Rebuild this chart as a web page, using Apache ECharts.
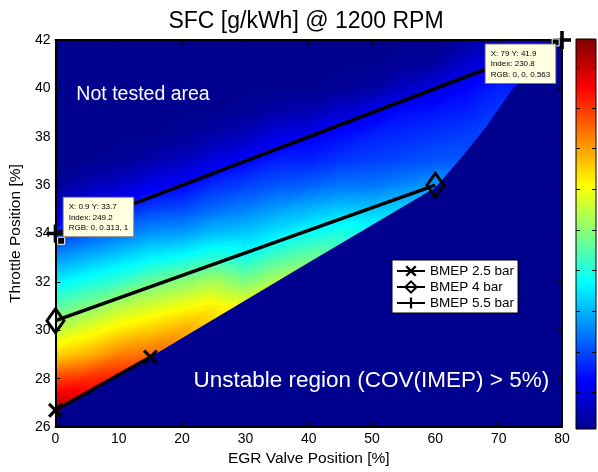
<!DOCTYPE html>
<html>
<head>
<meta charset="utf-8">
<title>SFC @ 1200 RPM</title>
<script src="https://cdn.jsdelivr.net/npm/echarts@6/dist/echarts.min.js"></script>
<style>
  html, body { margin: 0; padding: 0; background: #fff; }
  #chart { width: 598px; height: 472px; }
</style>
</head>
<body>
<div id="chart"></div>
<script>
// SFC readings [g/kWh]; one row per throttle position, one column per EGR position
const egrCols = [0, 5, 10, 15, 20, 25, 30, 35, 40, 45, 50, 55, 60, 65, 70, 75, 80]
const throttleRows = [26, 27, 28, 29, 30, 31, 32, 33, 34, 35, 36, 37, 38, 39, 40, 41, 42]
const n = null
const sfcRows = [
  [322, 320, n, n, n, n, n, n, n, n, n, n, n, n, n, n, n],
  [320, 318, 314, n, n, n, n, n, n, n, n, n, n, n, n, n, n],
  [309, 311, 313, 307, 302, n, n, n, n, n, n, n, n, n, n, n, n],
  [295, 298, 303, 305, 302, 296, n, n, n, n, n, n, n, n, n, n, n],
  [285, 289, 293, 296, 299, 296, 290, n, n, n, n, n, n, n, n, n, n],
  [275, 279, 284, 287, 290, 292, 290, 285, n, n, n, n, n, n, n, n, n],
  [266, 269, 272, 277, 280, 283, 279, 284, 279, 274, n, n, n, n, n, n, n],
  [257, 260, 263, 266, 268, 271, 269, 274, 277, 274, 268, n, n, n, n, n, n],
  [247, 251, 254, 257, 258, 261, 262, 265, 268, 270, 268, 264, n, n, n, n, n],
  [238, 242, 245, 249, 250, 253, 255, 258, 260, 262, 262, 263, 261, 254, n, n, n],
  [232, 235, 237, 241, 243, 247, 249, 251, 252, 254, 254, 256, 258, 253, n, n, n],
  [231, 231, 232, 234, 236, 240, 243, 246, 246, 248, 249, 250, 251, 251, 249, n, n],
  [231, 231, 231, 231, 232, 234, 236, 240, 242, 244, 246, 247, 248, 249, 249, n, n],
  [231, 231, 231, 231, 231, 231, 232, 234, 235, 238, 241, 244, 245, 246, 248, 246, n],
  [231, 231, 231, 231, 231, 231, 231, 231, 231, 232, 233, 237, 240, 243, 246, 245, 242],
  [231, 231, 231, 231, 231, 231, 231, 231, 231, 231, 231, 232, 233, 238, 242, 243, 240],
  [231, 231, 231, 231, 231, 231, 231, 231, 231, 231, 231, 231, 231, 233, 236, 238, 231]
]
const sfcMin = 231
const sfcMax = 327

// lower limit of the tested area (below it COV(IMEP) > 5%)
const edgeEgr = [0, 15, 40, 60, 64, 68, 72, 76, 80]
const edgeThrottle = [26.6, 28.9, 32.8, 35.9, 37.1, 38.4, 39.9, 41.1, 42]

// constant BMEP lines
const bmep25Egr = [0, 15]
const bmep25Thr = [26.7, 28.9]
const bmep4Egr = [0, 60]
const bmep4Thr = [30.4, 36]
const bmep55Egr = [0, 80]
const bmep55Thr = [34, 42]

// data tips
const tipEgr = [0.9, 79]
const tipThr = [33.7, 41.9]
const tipIndex = [249.2, 230.8]
const tipRgb = ['0, 0.313, 1', '0, 0, 0.563']

const noteEgr = [3.3, 21.8]
const noteThr = [39.75, 27.9]
const noteText = ['Not tested area', 'Unstable region (COV(IMEP) > 5%)']

const colorbarTicks = [240, 250, 260, 270, 280, 290, 300, 310, 320]

const font = "'Liberation Sans', Arial, Helvetica, sans-serif"

// jet colormap
const jetStops = [
  [0, [0, 0, 143]],
  [1 / 8, [0, 0, 255]],
  [3 / 8, [0, 255, 255]],
  [5 / 8, [255, 255, 0]],
  [7 / 8, [255, 0, 0]],
  [1, [128, 0, 0]]
]

const jet = (v) => {
  const t = Math.min(1, Math.max(0, (v - sfcMin) / (sfcMax - sfcMin)))
  for (let i = 1; i < jetStops.length; i++) {
    const [t1, c1] = jetStops[i]
    const [t0, c0] = jetStops[i - 1]
    if (t <= t1) {
      const f = (t - t0) / (t1 - t0)
      const c = c0.map((a, k) => Math.round(a + (c1[k] - a) * f))
      return `rgb(${c[0]},${c[1]},${c[2]})`
    }
  }
  return 'rgb(128,0,0)'
}

const rampStops = (lo, hi) => {
  const stops = [{ offset: 0, color: jet(lo) }]
  jetStops.forEach(([t]) => {
    const v = sfcMin + t * (sfcMax - sfcMin)
    if (v > lo && v < hi) stops.push({ offset: (v - lo) / (hi - lo), color: jet(v) })
  })
  stops.push({ offset: 1, color: jet(hi) })
  return stops
}

// gouraud-shaded triangle: values vary linearly, so one linear gradient covers it
const shadedTriangle = (pts, vals) => {
  const [p0, p1, p2] = pts
  const [v0, v1, v2] = vals
  const lo = Math.min(v0, v1, v2)
  const hi = Math.max(v0, v1, v2)
  let fill
  if (hi - lo < 0.01) {
    fill = jet(lo)
  } else {
    const d1x = p1[0] - p0[0], d1y = p1[1] - p0[1]
    const d2x = p2[0] - p0[0], d2y = p2[1] - p0[1]
    const det = d1x * d2y - d1y * d2x
    const a = ((v1 - v0) * d2y - d1y * (v2 - v0)) / det
    const b = (d1x * (v2 - v0) - (v1 - v0) * d2x) / det
    const g2 = a * a + b * b
    const s = (lo - v0) / g2
    const e = (hi - v0) / g2
    fill = new echarts.graphic.LinearGradient(
      p0[0] + a * s, p0[1] + b * s, p0[0] + a * e, p0[1] + b * e, rampStops(lo, hi), true)
  }
  return { type: 'polygon', shape: { points: pts }, style: { fill, stroke: fill, lineWidth: 1 } }
}

const renderCell = (params, api) => {
  const x0 = api.value(0), y0 = api.value(1), x1 = api.value(2), y1 = api.value(3)
  const p00 = api.coord([x0, y0])
  const p10 = api.coord([x1, y0])
  const p01 = api.coord([x0, y1])
  const p11 = api.coord([x1, y1])
  const v00 = api.value(4), v10 = api.value(5), v01 = api.value(6), v11 = api.value(7)
  return {
    type: 'group',
    children: [
      shadedTriangle([p00, p10, p11], [v00, v10, v11]),
      shadedTriangle([p00, p11, p01], [v00, v11, v01])
    ]
  }
}

const renderColorbar = (params, api) => {
  const top = api.coord([api.value(0), api.value(3)])
  const bottom = api.coord([api.value(2), api.value(1)])
  const stops = jetStops.map(([t]) => ({ offset: t, color: jet(sfcMin + t * (sfcMax - sfcMin)) }))
  return {
    type: 'rect',
    shape: { x: top[0], y: top[1], width: bottom[0] - top[0], height: bottom[1] - top[1] },
    style: {
      fill: new echarts.graphic.LinearGradient(0, bottom[1], 0, top[1], stops, true),
      stroke: '#000',
      lineWidth: 1
    }
  }
}

// cells of the grid that have all four corners measured
const cells = []
for (let j = 0; j < throttleRows.length - 1; j++) {
  for (let i = 0; i < egrCols.length - 1; i++) {
    const v00 = sfcRows[j][i], v10 = sfcRows[j][i + 1]
    const v01 = sfcRows[j + 1][i], v11 = sfcRows[j + 1][i + 1]
    if ([v00, v10, v01, v11].some(v => v === null)) continue
    cells.push([egrCols[i], throttleRows[j], egrCols[i + 1], throttleRows[j + 1], v00, v10, v01, v11])
  }
}

const pairs = (xs, ys) => xs.map((x, i) => [x, ys[i]])

const plusPath = 'path://M0,4H10V6H0Z M4,0H6V10H4Z'
const crossPath = 'path://M0,1.5L1.5,0L5,3.5L8.5,0L10,1.5L6.5,5L10,8.5L8.5,10L5,6.5L1.5,10L0,8.5L3.5,5Z'

const mainAxis = {
  gridIndex: 0,
  type: 'value',
  z: 5,
  axisLine: { show: true, onZero: false, lineStyle: { color: '#000', width: 2 } },
  axisTick: { show: true, inside: true, length: 5, lineStyle: { color: '#000', width: 1 } },
  splitLine: { show: false }
}

const cbAxis = {
  gridIndex: 1,
  type: 'value',
  min: sfcMin,
  max: sfcMax,
  z: 5,
  axisLine: { show: false, onZero: false },
  axisTick: { show: true, inside: true, length: 4, customValues: colorbarTicks, lineStyle: { color: '#000' } },
  axisLabel: { show: false },
  splitLine: { show: false }
}

const chart = echarts.init(document.getElementById('chart'))

chart.setOption({
  animation: false,
  textStyle: { fontFamily: font },
  title: {
    text: 'SFC [g/kWh] @ 1200 RPM',
    left: 301,
    textAlign: 'center',
    top: 5,
    textStyle: { fontSize: 23, fontWeight: 'normal', color: '#000', fontFamily: font }
  },
  grid: [
    { left: 51, right: 36, top: 40, bottom: 40, show: true, backgroundColor: jet(sfcMin), borderWidth: 0 },
    { left: 576, top: 39, width: 20, height: 390, show: false }
  ],
  legend: {
    data: ['BMEP 2.5 bar', 'BMEP 4 bar', 'BMEP 5.5 bar'],
    orient: 'vertical',
    left: 392,
    top: 260,
    backgroundColor: '#fff',
    borderColor: '#000',
    borderWidth: 1,
    borderRadius: 0,
    padding: [4, 4, 3, 4],
    itemGap: 2,
    itemWidth: 28,
    itemHeight: 14,
    textStyle: { fontSize: 13.5, color: '#000', fontFamily: font }
  },
  xAxis: [
    {
      ...mainAxis, min: 0, max: 80, interval: 10, position: 'bottom',
      axisLabel: { color: '#000', fontSize: 14, margin: 5, fontFamily: font },
      name: 'EGR Valve Position [%]', nameLocation: 'middle', nameGap: 22,
      nameTextStyle: { color: '#000', fontSize: 15.5, fontFamily: font }
    },
    { ...mainAxis, min: 0, max: 80, interval: 10, position: 'top', axisLabel: { show: false } },
    { gridIndex: 1, type: 'value', min: 0, max: 1, show: false }
  ],
  yAxis: [
    {
      ...mainAxis, min: 26, max: 42, interval: 2, position: 'left',
      axisLabel: { color: '#000', fontSize: 14, margin: 5, fontFamily: font },
      name: 'Throttle Position [%]', nameLocation: 'middle', nameGap: 23,
      nameTextStyle: { color: '#000', fontSize: 15.5, fontFamily: font }
    },
    { ...mainAxis, min: 26, max: 42, interval: 2, position: 'right', axisLabel: { show: false } },
    { ...cbAxis, position: 'left' },
    { ...cbAxis, position: 'right' }
  ],
  series: [
    {
      name: 'SFC',
      type: 'custom',
      xAxisIndex: 0,
      yAxisIndex: 0,
      renderItem: renderCell,
      encode: { x: [0, 2], y: [1, 3] },
      data: cells,
      silent: true,
      z: 1
    },
    {
      name: 'unstable',
      type: 'line',
      data: pairs(edgeEgr, edgeThrottle),
      symbol: 'none',
      lineStyle: { width: 0, opacity: 0 },
      areaStyle: { color: jet(sfcMin), opacity: 1, origin: 'start' },
      silent: true,
      z: 3
    },
    {
      name: 'BMEP 2.5 bar',
      type: 'line',
      data: pairs(bmep25Egr, bmep25Thr),
      symbol: crossPath,
      symbolSize: 15,
      lineStyle: { color: '#000', width: 3.5 },
      itemStyle: { color: '#000' },
      clip: false,
      silent: true,
      z: 6
    },
    {
      name: 'BMEP 4 bar',
      type: 'line',
      data: pairs(bmep4Egr, bmep4Thr),
      symbol: 'diamond',
      symbolSize: [17, 24],
      lineStyle: { color: '#000', width: 3.5 },
      itemStyle: { color: 'rgba(0,0,0,0)', borderColor: '#000', borderWidth: 3 },
      clip: false,
      silent: true,
      z: 6
    },
    {
      name: 'BMEP 5.5 bar',
      type: 'line',
      data: pairs(bmep55Egr, bmep55Thr),
      symbol: plusPath,
      symbolSize: 18,
      lineStyle: { color: '#000', width: 3.5 },
      itemStyle: { color: '#000' },
      clip: false,
      silent: true,
      z: 6
    },
    {
      name: 'notes',
      type: 'scatter',
      symbolSize: 0,
      silent: true,
      z: 7,
      itemStyle: { opacity: 1 },
      label: { show: true, position: 'right', distance: 0, color: '#fff', fontFamily: font },
      data: [
        { value: [noteEgr[0], noteThr[0]], label: { formatter: noteText[0], fontSize: 19.5 } },
        { value: [noteEgr[1], noteThr[1]], label: { formatter: noteText[1], fontSize: 22.5 } }
      ]
    },
    {
      name: 'tips',
      type: 'scatter',
      symbol: 'rect',
      symbolSize: 7,
      silent: true,
      clip: false,
      z: 8,
      itemStyle: { color: '#000', borderColor: '#fff', borderWidth: 1, opacity: 1 },
      label: {
        show: true,
        fontSize: 8,
        lineHeight: 10.5,
        color: '#000',
        fontFamily: font,
        backgroundColor: '#ffffe1',
        borderColor: '#777',
        borderWidth: 1,
        padding: [4, 5, 3, 5],
        align: 'left',
        verticalAlign: 'top',
        formatter: (p) => `X: ${tipEgr[p.dataIndex]} Y: ${tipThr[p.dataIndex]}\nIndex: ${tipIndex[p.dataIndex]}\nRGB: ${tipRgb[p.dataIndex]}`
      },
      data: [
        { value: [tipEgr[0], tipThr[0]], label: { position: [6.5, -39] } },
        { value: [tipEgr[1], tipThr[1]], label: { position: [-66, 6] } }
      ]
    },
    {
      name: 'colorbar',
      type: 'custom',
      xAxisIndex: 2,
      yAxisIndex: 2,
      renderItem: renderColorbar,
      encode: { x: [0, 2], y: [1, 3] },
      data: [[0, sfcMin, 1, sfcMax]],
      silent: true,
      z: 1
    }
  ]
})

window.addEventListener('resize', () => chart.resize())
</script>
</body>
</html>
